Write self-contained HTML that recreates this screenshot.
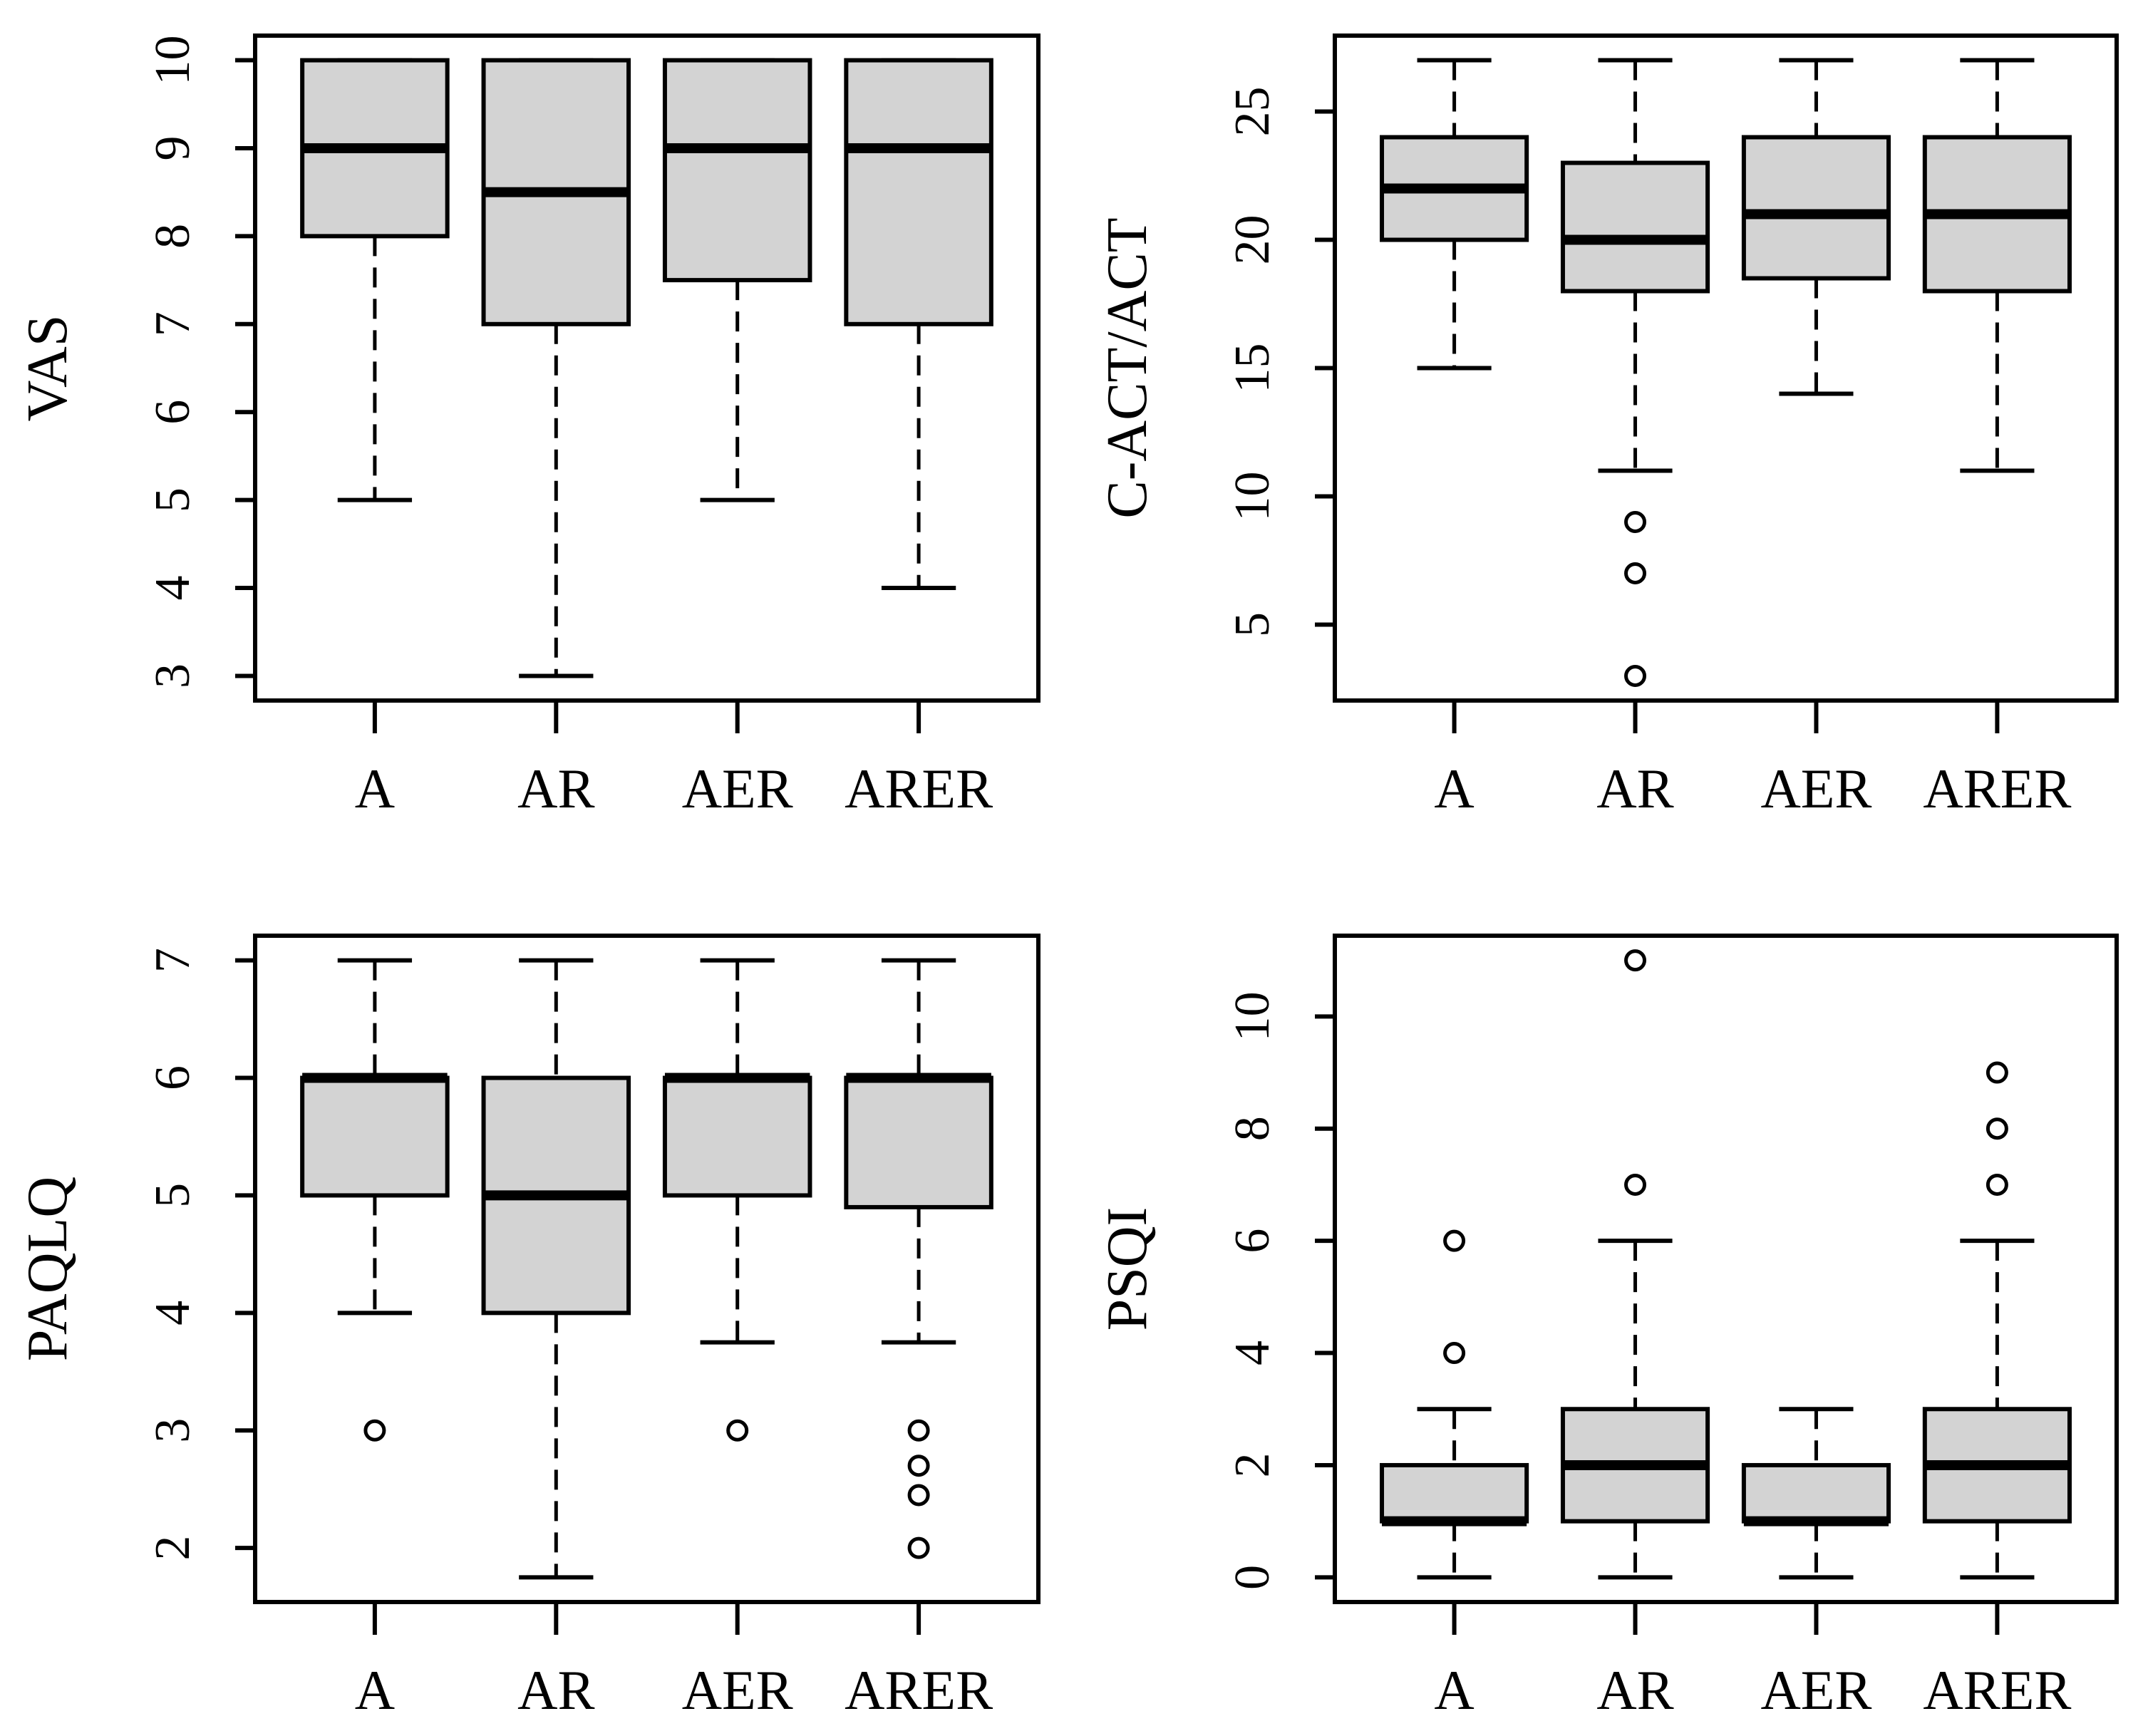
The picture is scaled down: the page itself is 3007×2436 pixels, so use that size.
<!DOCTYPE html>
<html><head><meta charset="utf-8">
<style>
html,body{margin:0;padding:0;background:#fff;}
svg{display:block;}
text{font-family:"Liberation Serif",serif;fill:#000;}
</style></head>
<body>
<svg id="chart" width="3007" height="2436" viewBox="0 0 3007 2436" xmlns="http://www.w3.org/2000/svg"></svg>
<script>
const categories = ["A","AR","AER","ARER"];
// [min, q1, median, q3, max]
const vasStats = [[5,8,9,10,10],[3,7,8.5,10,10],[5,7.5,9,10,10],[4,7,9,10,10]];
const vasOutliers = [[],[],[],[]];
const vasTicks = [3,4,5,6,7,8,9,10];
const actStats = [[15,20,22,24,27],[11,18,20,23,27],[14,18.5,21,24,27],[11,18,21,24,27]];
const actOutliers = [[],[9,7,3],[],[]];
const actTicks = [5,10,15,20,25];
const paqStats = [[4,5,6,6,7],[1.75,4,5,6,7],[3.75,5,6,6,7],[3.75,4.9,6,6,7]];
const paqOutliers = [[3],[],[3],[3,2.7,2.45,2]];
const paqTicks = [2,3,4,5,6,7];
const psqStats = [[0,1,1,2,3],[0,1,2,3,6],[0,1,1,2,3],[0,1,2,3,6]];
const psqOutliers = [[6,4],[7,11],[],[7,8,9]];
const psqTicks = [0,2,4,6,8,10];

const NS = "http://www.w3.org/2000/svg";
const FONT = '"Liberation Serif", serif';
const svg = document.getElementById("chart");
function mk(tag, attrs, parent){
  const e = document.createElementNS(NS, tag);
  for (const k in attrs) e.setAttribute(k, attrs[k]);
  (parent||svg).appendChild(e);
  return e;
}

const panels = [
  {name:"vas", title:"VAS", stats:vasStats, out:vasOutliers, ticks:vasTicks, x0:358, x1:1457, y0:50, y1:983},
  {name:"cact", title:"C-ACT/ACT", stats:actStats, out:actOutliers, ticks:actTicks, x0:1873, x1:2970, y0:50, y1:983},
  {name:"paqlq", title:"PAQLQ", stats:paqStats, out:paqOutliers, ticks:paqTicks, x0:358, x1:1457, y0:1313, y1:2248},
  {name:"psqi", title:"PSQI", stats:psqStats, out:psqOutliers, ticks:psqTicks, x0:1873, x1:2970, y0:1313, y1:2248}
];

panels.forEach(p => {
  const g = mk("g", {});
  
  
  let lo = Infinity, hi = -Infinity;
  p.stats.forEach((s,i) => { lo = Math.min(lo, s[0], ...p.out[i]); hi = Math.max(hi, s[4], ...p.out[i]); });
  const pad = (hi - lo) * 0.04;
  const ylo = lo - pad, yhi = hi + pad;
  const yS = v => p.y1 - (v - ylo) / (yhi - ylo) * (p.y1 - p.y0);
  const xw = (p.x1 - p.x0) / 4.32;
  const xS = i => p.x0 + (i + 1 - 0.34) * xw;
  const bh = 0.4 * xw, ch = 0.205 * xw;
  const SW = 6;

  p.stats.forEach((s,i) => {
    const cx = xS(i);
    const bg = mk("g", {}, g);
    
    
    mk("line", {x1:cx, x2:cx, y1:yS(s[4]), y2:yS(s[3]), stroke:"#000", "stroke-width":5, "stroke-dasharray":"28,16"}, bg);
    mk("line", {x1:cx, x2:cx, y1:yS(s[1]), y2:yS(s[0]), stroke:"#000", "stroke-width":5, "stroke-dasharray":"28,16"}, bg);
    mk("line", {x1:cx-ch, x2:cx+ch, y1:yS(s[4]), y2:yS(s[4]), stroke:"#000", "stroke-width":SW}, bg);
    mk("line", {x1:cx-ch, x2:cx+ch, y1:yS(s[0]), y2:yS(s[0]), stroke:"#000", "stroke-width":SW}, bg);
    mk("rect", {x:cx-bh, y:yS(s[3]), width:2*bh, height:yS(s[1])-yS(s[3]), fill:"#d3d3d3", stroke:"#000", "stroke-width":SW}, bg);
    mk("line", {x1:cx-bh, x2:cx+bh, y1:yS(s[2]), y2:yS(s[2]), stroke:"#000", "stroke-width":14}, bg);
    p.out[i].forEach(v => {
      const c = mk("circle", {cx:cx, cy:yS(v), r:13, fill:"none", stroke:"#000", "stroke-width":5}, bg);
      
      
    });
    mk("line", {x1:cx, x2:cx, y1:p.y1, y2:p.y1+46, stroke:"#000", "stroke-width":SW}, g);
    const t = mk("text", {x:cx, y:p.y1+150, "font-size":78, "font-family":FONT, "text-anchor":"middle"}, g);
    t.textContent = categories[i];
    
    
  });

  const fr = mk("rect", {x:p.x0, y:p.y0, width:p.x1-p.x0, height:p.y1-p.y0, fill:"none", stroke:"#000", "stroke-width":SW}, g);
  
  

  const ya = mk("g", {}, g);
  
  
  p.ticks.forEach(v => {
    const y = yS(v);
    mk("line", {x1:p.x0-28, x2:p.x0, y1:y, y2:y, stroke:"#000", "stroke-width":SW}, ya);
    const tx = p.x0 - 93;
    const t = mk("text", {x:tx, y:y, "font-size":70, "font-family":FONT, "text-anchor":"middle", transform:`rotate(-90 ${tx} ${y})`}, ya);
    t.textContent = v;
    
    
  });
  const lx = p.x0 - 265, ly = (p.y0 + p.y1) / 2;
  const yt = mk("text", {x:lx, y:ly, "font-size":80, "font-family":FONT, "text-anchor":"middle", transform:`rotate(-90 ${lx} ${ly})`}, g);
  yt.textContent = p.title;
  
  
});
</script>
</body></html>
